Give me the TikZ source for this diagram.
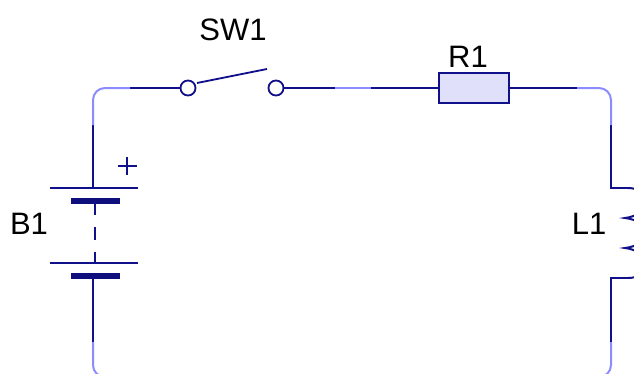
\documentclass[tikz,border=0pt]{standalone}
\usepackage{fontspec}
\setmainfont{Liberation Sans}
\usetikzlibrary{positioning}
\definecolor{wiredark}{HTML}{10108A}
\definecolor{wirelight}{HTML}{8C8CFF}
\definecolor{resfill}{HTML}{E0E0FA}
\tikzset{
  wire/.style={draw=wiredark,line width=2pt},
  wirelt/.style={draw=wirelight,line width=2pt},
  plate/.style={draw=wiredark,line width=1.8pt},
  plateth/.style={draw=wiredark!90!black,line width=6pt},
  term/.style={circle,draw=wiredark,line width=1.8pt,fill=white,minimum size=15pt,inner sep=0pt},
  res/.style={rectangle,draw=wiredark,line width=2pt,fill=resfill,minimum width=70pt,minimum height=30pt,inner sep=0pt},
  lbl/.style={font=\fontsize{31}{31}\selectfont,text=black,inner sep=0pt},
}
\begin{document}
\begin{tikzpicture}[x=1pt,y=-1pt]
    \useasboundingbox (0,0) rectangle (634,373);
    \clip (0,0) rectangle (634,373);
    % switch and resistor
    \node[term] (swa) at (188,88) {};
    \node[term] (swb) at (276,88) {};
    \node[res] (r1) at (474,88) {};
    \coordinate (swtip) at (267,69);
    \coordinate (swarm) at (197,83);
    % wire ends
    \coordinate (tla) at (93,125);
    \coordinate (tlb) at (130,88);
    \coordinate (tma) at (335,88);
    \coordinate (tmb) at (371,88);
    \coordinate (tra) at (577,88);
    \coordinate (trb) at (611,125);
    \coordinate (coila) at (628,188);
    \coordinate (coilb) at (628,278);
    \coordinate (bra) at (611,342);
    \coordinate (bla) at (93,342);
    % battery
    \coordinate (pa) at (93,188);
    \coordinate (pb) at (93,276);
    \draw[plate] (50,188) -- (138,188);
    \draw[plateth] (71,201) -- (120,201);
    \draw[plate] (50,263) -- (138,263);
    \draw[plateth] (71,276) -- (120,276);
    \draw[plate] (95,201) -- (95,215);
    \draw[plate] (95,227) -- (95,240);
    \draw[plate] (95,252) -- (95,263);
    \draw[plate] (118,166) -- (137,166);
    \draw[plate] (127,157) -- (127,175);
    % wires
    \draw[wire] (tla) -- (pa);
    \draw[wire] (pb) -- (bla);
    \draw[wire] (tlb) -- (swa);
    \draw[wire] (swb) -- (tma);
    \draw[wire] (tmb) -- (r1);
    \draw[wire] (r1) -- (tra);
    \draw[wire] (trb) |- (coila);
    \draw[wire] (bra) |- (coilb);
    \draw[wirelt] (tla) -- (93,100) arc[start angle=180,end angle=270,radius=12] -- (tlb);
    \draw[wirelt] (tma) -- (tmb);
    \draw[wirelt] (tra) -- (599,88) arc[start angle=270,end angle=360,radius=12] -- (trb);
    \draw[wirelt] (bla) -- (93,365) arc[start angle=180,end angle=90,radius=12];
    \draw[wirelt] (bra) -- (611,365) arc[start angle=0,end angle=90,radius=12];
    \draw[plate] (swarm) -- (swtip);
    % coil
    \draw[wire] (coila) .. controls (652,188) and (652,215) .. (625,218)
      .. controls (652,221) and (652,245) .. (625,248)
      .. controls (652,251) and (652,278) .. (coilb);
    % labels
    \node[lbl] (sw1) at (233,30) {SW1};
    \node[lbl] (lr1) at (468,57) {R1};
    \node[lbl] (b1) at (29,224) {B1};
    \node[lbl] (l1) at (589,224) {L1};
\end{tikzpicture}
\end{document}
